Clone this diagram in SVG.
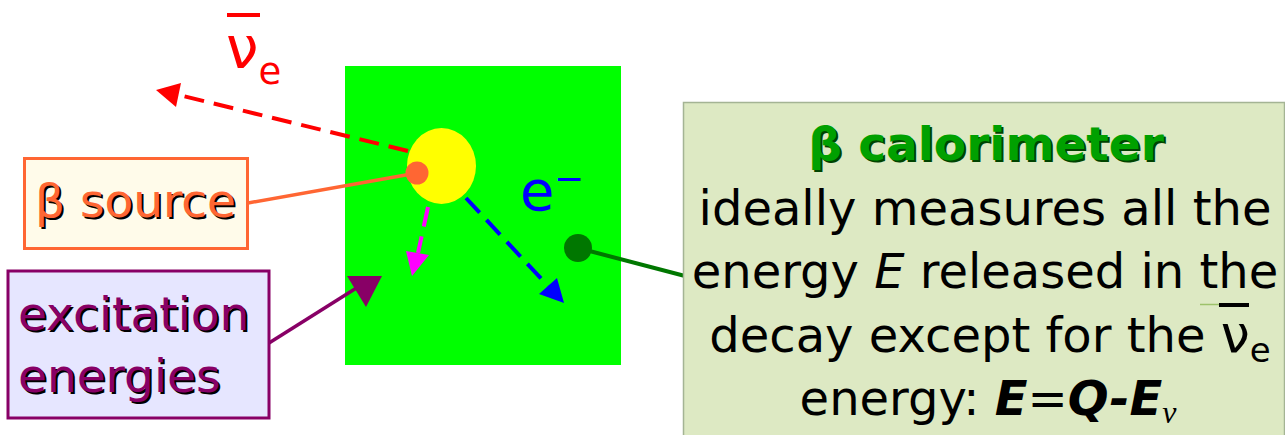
<svg xmlns="http://www.w3.org/2000/svg" width="1285" height="435" viewBox="0 0 1285 435">
<style>
.t{font-family:"DejaVu Sans","Liberation Sans",sans-serif}
.dash{fill:none;stroke-width:4;stroke-dasharray:20 10}
</style>
<rect width="1285" height="435" fill="#ffffff"/>
<g id="detector">
<rect x="345" y="66" width="276" height="299" fill="#00ff00"/>
<ellipse cx="441.5" cy="166" rx="34.5" ry="38" fill="#ffff00"/>
</g>
<g id="connectors">
<line x1="408" y1="151" x2="179" y2="95" class="dash" stroke="#ff0000"/>
<polygon points="156,90 181,83 176,107" fill="#ff0000"/>
<line x1="428" y1="207" x2="418" y2="253" class="dash" stroke="#ff00ff" stroke-dasharray="15 9"/>
<polygon points="412,276 406,251 429,255" fill="#ff00ff"/>
<line x1="466" y1="198" x2="548" y2="286" class="dash" stroke="#0000ff"/>
<polygon points="564,303 539,294 557,278" fill="#0000ff"/>
<line x1="248" y1="203" x2="417" y2="173" stroke="#ff6633" stroke-width="3.5"/>
<circle cx="417" cy="173" r="11.5" fill="#ff6633"/>
<line x1="269" y1="343" x2="358" y2="287" stroke="#880066" stroke-width="3.5"/>
<polygon points="347,276 382,276 366,307" fill="#880066"/>
<line x1="578" y1="248" x2="685" y2="276" stroke="#007700" stroke-width="4"/>
<circle cx="578" cy="248" r="14" fill="#007700"/>
</g>
<g id="nubar">
<rect x="227" y="13" width="33" height="4" fill="#ff0000"/>
<text class="t" x="226" y="68" font-size="58" fill="#ff0000">ν<tspan font-size="37" dy="16">e</tspan></text>
</g>
<g id="electron">
<text class="t" x="520" y="210" font-size="56" fill="#0000ff">e</text>
<text class="t" x="554" y="191" font-size="36" fill="#0000ff">−</text>
</g>
<g id="source">
<rect x="24.5" y="158.5" width="223" height="90" fill="#fffbea" stroke="#ff6633" stroke-width="3"/>
<text class="t" x="37" y="219" font-size="47" fill="#000000">β source</text>
<text class="t" x="35" y="217" font-size="47" fill="#ff6633">β source</text>
</g>
<g id="excitation">
<rect x="8" y="271" width="261" height="147" fill="#e6e6ff" stroke="#880066" stroke-width="3"/>
<text class="t" font-size="47" fill="#000000"><tspan x="20" y="332">excitation</tspan><tspan x="20" y="394">energies</tspan></text>
<text class="t" font-size="47" fill="#880066"><tspan x="18" y="330">excitation</tspan><tspan x="18" y="392">energies</tspan></text>
</g>
<g id="calorimeter">
<rect x="683.5" y="102.5" width="601" height="340" fill="#dde9c3" stroke="#a4b494" stroke-width="1.5"/>
<text class="t" x="988" y="162" font-size="47" font-weight="bold" text-anchor="middle" fill="#004400">β calorimeter</text>
<text class="t" x="986" y="160" font-size="47" font-weight="bold" text-anchor="middle" fill="#00a000">β calorimeter</text>
<g class="t" font-size="48" fill="#000000" text-anchor="middle">
<text x="985" y="225">ideally measures all the</text>
<text x="985" y="288">energy <tspan font-style="italic">E</tspan> released in the</text>
<text x="990" y="352">decay except for the <tspan font-size="52">ν</tspan><tspan font-size="34" dy="10">e</tspan></text>
<text x="988" y="415">energy: <tspan font-weight="bold" font-style="italic">E</tspan>=<tspan font-weight="bold" font-style="italic">Q-E</tspan><tspan font-family="Liberation Serif,serif" font-style="italic" font-size="32" dy="8">ν</tspan></text>
</g>
<line x1="1200" y1="304.5" x2="1229" y2="304.5" stroke="#9dc26a" stroke-width="1.5"/>
<rect x="1219" y="303" width="30" height="4" fill="#000000"/>
</g>
</svg>
